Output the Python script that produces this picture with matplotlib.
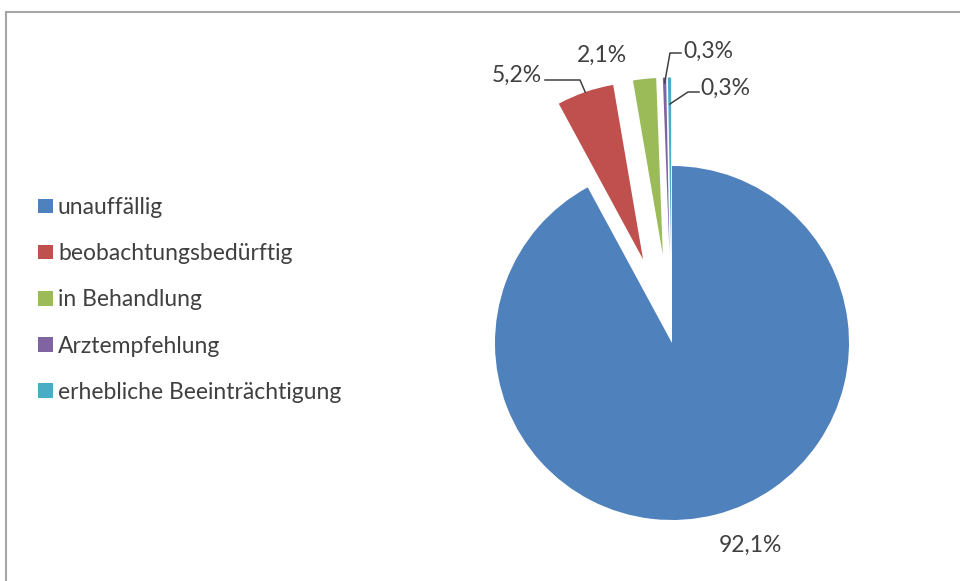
import numpy as np
import matplotlib
matplotlib.use("Agg")
import matplotlib.pyplot as plt
from matplotlib.patches import Rectangle

# Daten
kategorien = [
    "unauffällig",
    "beobachtungsbedürftig",
    "in Behandlung",
    "Arztempfehlung",
    "erhebliche Beeinträchtigung",
]
anteile = [92.1, 5.2, 2.1, 0.3, 0.3]
beschriftungen = ["92,1%", "5,2%", "2,1%", "0,3%", "0,3%"]
farben = ["#4F81BD", "#C0504D", "#9BBB59", "#8064A2", "#4BACC6"]
explode = [0.0, 0.5, 0.5, 0.5, 0.5]

TEXT = "#404040"
plt.rcParams["font.family"] = ["Lato", "DejaVu Sans"]

W, H = 960, 581
fig = plt.figure(figsize=(W / 100, H / 100), dpi=100)

# Pie-Zentrum und Radius in Pixeln
cx, cy, r = 672, 343, 177
ax = fig.add_axes([0, 0, 1, 1])
wedges, _ = ax.pie(anteile, colors=farben, explode=explode, startangle=90,
                   counterclock=False, radius=1.0,
                   wedgeprops=dict(linewidth=0))
ax.set_aspect("auto")
ax.set_xlim(-cx / r, (W - cx) / r)
ax.set_ylim(-(H - cy) / r, cy / r)
ax.axis("off")


def px(x, y):
    """Pixelposition -> Datenkoordinaten des Pie-Achsensystems."""
    return ((x - cx) / r, (cy - y) / r)


def wedge_punkt(w, frac=1.0):
    """Punkt auf der Mittellinie eines (ggf. verschobenen) Segments."""
    mid = np.deg2rad((w.theta1 + w.theta2) / 2)
    x0, y0 = w.center
    return (x0 + frac * w.r * np.cos(mid), y0 + frac * w.r * np.sin(mid))


fs = 16.5
# 92,1% unten, 2,1% ohne Fuehrungslinie
for i, (x, y) in [(0, (750, 545)), (2, (602, 55))]:
    ax.text(*px(x, y), beschriftungen[i], ha="center", va="center",
            fontsize=fs, color=TEXT)

# Beschriftungen mit Fuehrungslinien (Text, Ausrichtung, Start, Knick, Anteil)
linien = [
    (1, (542, 75), "right", (545, 80), (580, 80), 1.0),
    (3, (683, 51), "left", (670, 53), (681, 53), 0.97),
    (4, (700, 88), "left", (688, 92), (699, 92), 0.85),
]
for i, pos, ha, p_start, p_knick, frac in linien:
    ax.text(*px(*pos), beschriftungen[i], ha=ha, va="center",
            fontsize=fs, color=TEXT)
    xs, ys = px(*p_start)
    xk, yk = px(*p_knick)
    xe, ye = wedge_punkt(wedges[i], frac)
    if ha == "right":
        ax.plot([xs, xk, xe], [ys, yk, ye], color=TEXT, lw=1.1)
    else:
        ax.plot([xk, xs, xe], [yk, ys, ye], color=TEXT, lw=1.1)

leg = fig.legend(wedges, kategorien, loc="upper left",
                 bbox_to_anchor=(38 / W, 1 - 197 / H),
                 frameon=False, fontsize=fs, borderpad=0,
                 handlelength=0.65, handleheight=0.6, handletextpad=0.22,
                 labelspacing=1.1, borderaxespad=0)
for t in leg.get_texts():
    t.set_color(TEXT)

# Rahmen (rechts und unten abgeschnitten)
fig.patches.append(Rectangle((5.5 / W, -0.05), 1.1, 1 - 12.5 / H + 0.05,
                             transform=fig.transFigure, fill=False,
                             edgecolor="#A6A6A6", lw=1.5))

fig.savefig("out.png", dpi=100)
